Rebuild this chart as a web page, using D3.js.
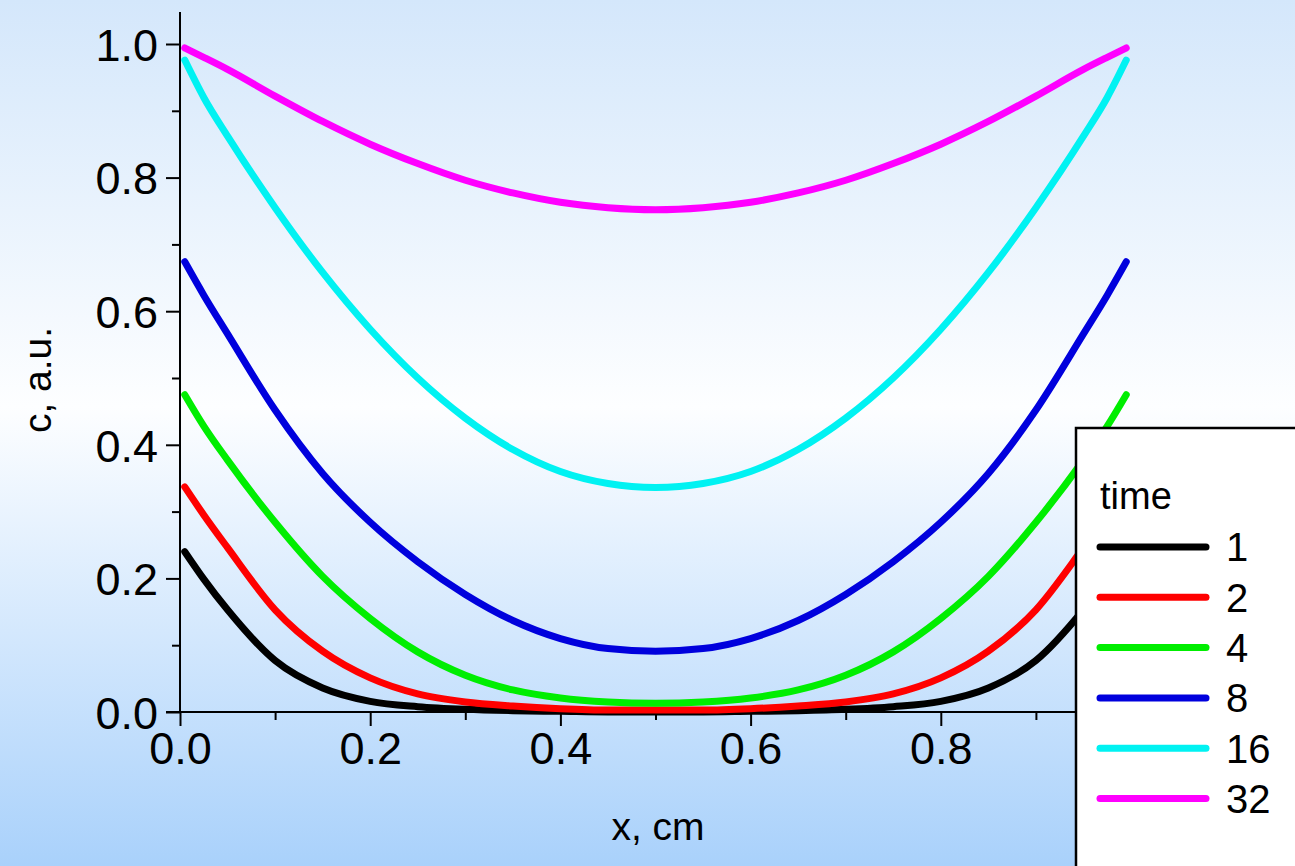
<!DOCTYPE html>
<html>
<head>
<meta charset="utf-8">
<script src="https://cdn.jsdelivr.net/npm/d3@7"></script>
<style>
  html, body { margin: 0; padding: 0; overflow: hidden; }
  svg { display: block; font-family: 'Liberation Sans', Arial, sans-serif; }
</style>
</head>
<body>
<svg id="chart" width="1295" height="866"></svg>
<script>
// positions along the sample, cm
const xs = [0.005, 0.025, 0.05, 0.1, 0.15, 0.2, 0.25, 0.3, 0.35, 0.4, 0.45, 0.5,
  0.55, 0.6, 0.65, 0.7, 0.75, 0.8, 0.85, 0.9, 0.95, 0.975, 0.995];

// concentration profiles
const c1 = [0.240, 0.199, 0.153, 0.077, 0.036, 0.016, 0.008, 0.004, 0.002, 0.001, 0.000, 0.000,
  0.000, 0.001, 0.002, 0.004, 0.008, 0.016, 0.036, 0.077, 0.153, 0.199, 0.240];
const c2 = [0.337, 0.295, 0.246, 0.153, 0.091, 0.051, 0.027, 0.015, 0.009, 0.005, 0.003, 0.003,
  0.003, 0.005, 0.009, 0.015, 0.027, 0.051, 0.091, 0.153, 0.246, 0.295, 0.337];
const c4 = [0.475, 0.428, 0.377, 0.284, 0.203, 0.140, 0.090, 0.055, 0.033, 0.021, 0.015, 0.013,
  0.015, 0.021, 0.033, 0.055, 0.090, 0.140, 0.203, 0.284, 0.377, 0.428, 0.475];
const c8 = [0.674, 0.624, 0.566, 0.452, 0.357, 0.284, 0.225, 0.176, 0.137, 0.110, 0.095, 0.091,
  0.095, 0.110, 0.137, 0.176, 0.225, 0.284, 0.357, 0.452, 0.566, 0.624, 0.674];
const c16 = [0.976, 0.920, 0.862, 0.755, 0.658, 0.573, 0.500, 0.440, 0.393, 0.360, 0.342, 0.336,
  0.342, 0.360, 0.393, 0.440, 0.500, 0.573, 0.658, 0.755, 0.862, 0.920, 0.976];
const c32 = [0.994, 0.980, 0.962, 0.922, 0.884, 0.850, 0.821, 0.796, 0.777, 0.763, 0.755, 0.752,
  0.755, 0.763, 0.777, 0.796, 0.821, 0.850, 0.884, 0.922, 0.962, 0.980, 0.994];

const times = ['1', '2', '4', '8', '16', '32'];
const profiles = [c1, c2, c4, c8, c16, c32];
const colors = ['#000000', '#ff0000', '#00ee00', '#0000dd', '#00f2f2', '#ff00ff'];

const majorTicks = [0, 0.2, 0.4, 0.6, 0.8, 1.0];
const minorTicks = [0.1, 0.3, 0.5, 0.7, 0.9];

const width = 1295;
const height = 866;

const svg = d3.select('#chart');

const defs = svg.append('defs');
const grad = defs.append('linearGradient')
  .attr('id', 'bg')
  .attr('x1', 0).attr('y1', 0).attr('x2', 0).attr('y2', 1);
grad.append('stop').attr('offset', '0%').attr('stop-color', '#d4e7fb');
grad.append('stop').attr('offset', '47%').attr('stop-color', '#fdfeff');
grad.append('stop').attr('offset', '100%').attr('stop-color', '#a9d1fb');

svg.append('rect')
  .attr('width', width)
  .attr('height', height)
  .attr('fill', 'url(#bg)');

const x = d3.scaleLinear().domain([0, 1]).range([180, 1131]);
const y = d3.scaleLinear().domain([0, 1]).range([712, 44]);

const fmt = d3.format('.1f');

// axes
const yAxis = svg.append('g')
  .attr('transform', `translate(${x(0)},0)`)
  .call(d3.axisLeft(y).tickValues(majorTicks).tickSize(14).tickPadding(8).tickFormat(fmt))
  .call((g) => g.select('.domain').remove());
svg.append('g')
  .attr('transform', `translate(${x(0)},0)`)
  .call(d3.axisLeft(y).tickValues(minorTicks).tickSize(8).tickFormat(''))
  .call((g) => g.select('.domain').remove());

svg.append('g')
  .attr('transform', `translate(0,${y(0)})`)
  .call(d3.axisBottom(x).tickValues(majorTicks).tickSize(14).tickPadding(6).tickFormat(fmt))
  .call((g) => g.select('.domain').remove());
svg.append('g')
  .attr('transform', `translate(0,${y(0)})`)
  .call(d3.axisBottom(x).tickValues(minorTicks).tickSize(8).tickFormat(''))
  .call((g) => g.select('.domain').remove());

svg.selectAll('.tick line').attr('stroke', '#000').attr('stroke-width', 2);
svg.selectAll('.tick text')
  .attr('fill', '#000')
  .attr('font-size', 45)
  .attr('font-family', "'Liberation Sans', Arial, sans-serif");
yAxis.selectAll('.tick text').attr('dy', '0.36em');

svg.append('line')
  .attr('x1', x(0)).attr('x2', x(0))
  .attr('y1', 12).attr('y2', y(0))
  .attr('stroke', '#000').attr('stroke-width', 2);
svg.append('line')
  .attr('x1', x(0) - 14).attr('x2', x(1) + 10)
  .attr('y1', y(0)).attr('y2', y(0))
  .attr('stroke', '#000').attr('stroke-width', 2);

// axis titles
svg.append('text')
  .attr('x', 658)
  .attr('y', 840)
  .attr('text-anchor', 'middle')
  .attr('font-size', 39)
  .text('x, cm');

svg.append('text')
  .attr('transform', `translate(51,${y(0.5) + 2}) rotate(-90)`)
  .attr('text-anchor', 'middle')
  .attr('font-size', 39)
  .text('c, a.u.');

// curves
const line = d3.line()
  .x((d) => x(d[0]))
  .y((d) => y(d[1]))
  .curve(d3.curveMonotoneX);

svg.append('g')
  .selectAll('path')
  .data(profiles)
  .join('path')
  .attr('d', (vals) => line(vals.map((v, i) => [xs[i], v])))
  .attr('fill', 'none')
  .attr('stroke', (_, i) => colors[i])
  .attr('stroke-width', 7)
  .attr('stroke-linecap', 'round')
  .attr('stroke-linejoin', 'round');

// legend
const legend = svg.append('g').attr('transform', 'translate(1076,428)');
legend.append('rect')
  .attr('width', 260)
  .attr('height', 500)
  .attr('fill', '#fff')
  .attr('stroke', '#000')
  .attr('stroke-width', 2.5);
legend.append('text')
  .attr('x', 24)
  .attr('y', 81)
  .attr('font-size', 38)
  .text('time');

const item = legend.selectAll('g.item')
  .data(times)
  .join('g')
  .attr('class', 'item')
  .attr('transform', (_, i) => `translate(0,${119 + i * 50.3})`);
item.append('line')
  .attr('x1', 24).attr('x2', 130)
  .attr('stroke', (_, i) => colors[i])
  .attr('stroke-width', 7)
  .attr('stroke-linecap', 'round');
item.append('text')
  .attr('x', 150)
  .attr('dy', '0.36em')
  .attr('font-size', 40)
  .text((d) => d);
</script>
</body>
</html>
